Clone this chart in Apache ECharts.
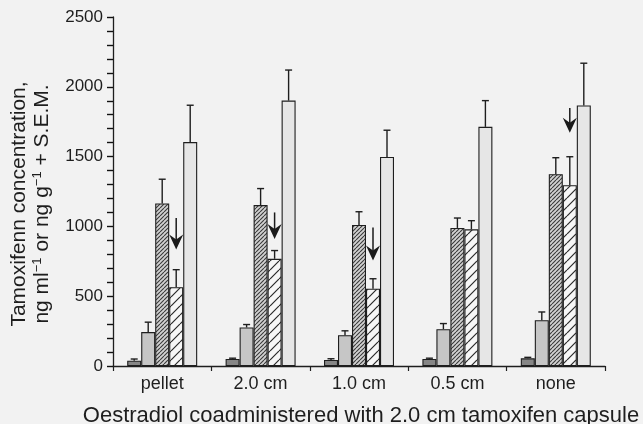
<!DOCTYPE html>
<html>
<head>
<meta charset="utf-8">
<script src="https://cdn.jsdelivr.net/npm/echarts@6/dist/echarts.min.js"></script>
<style>
html,body{margin:0;padding:0;background:#f2f2f2;}
#chart{width:643px;height:424px;}
</style>
</head>
<body>
<div id="chart"></div>
<script>
// ---- data ----
var categories = ['pellet', '2.0 cm', '1.0 cm', '0.5 cm', 'none'];
// five bars per group (left to right)
var bar1 = [38, 50, 43, 50, 55];
var bar2 = [243, 276, 221, 264, 328];
var bar3 = [1164, 1153, 1010, 989, 1374];
var bar4 = [565, 768, 554, 979, 1295];
var bar5 = [1604, 1901, 1497, 1713, 1866];
// upper end of "+ S.E.M." error bars
var upper1 = [50, 56, 52, 56, 62];
var upper2 = [314, 297, 252, 304, 387];
var upper3 = [1338, 1271, 1105, 1060, 1492];
var upper4 = [690, 827, 625, 1041, 1499];
var upper5 = [1868, 2120, 1689, 1901, 2169];
// arrows above the 4th bar: start value and tip value (null = no arrow)
var arrowStart = [1060, 1100, 993, null, 1848];
var arrowTip = [835, 910, 756, null, 1670];
var yTicks = [0, 500, 1000, 1500, 2000, 2500];

var BAR_W = 14;
var FONT = '"Liberation Sans", Arial, Helvetica, sans-serif';

function hatch(size, bg, fg, lw) {
  var c = document.createElement('canvas');
  c.width = size; c.height = size;
  var g = c.getContext('2d');
  g.fillStyle = bg; g.fillRect(0, 0, size, size);
  g.strokeStyle = fg; g.lineWidth = lw;
  g.beginPath();
  [-size, 0, size].forEach(function (o) {
    g.moveTo(o, size); g.lineTo(o + size, 0);
  });
  g.stroke();
  return c;
}

var barSeriesData = [bar1, bar2, bar3, bar4, bar5];
var upperData = [upper1, upper2, upper3, upper4, upper5];
var fills = [
  '#868686',
  '#c6c6c6',
  { image: hatch(4, '#d2d2d2', '#3a3a3a', 1.1), repeat: 'repeat' },
  { image: hatch(9, '#f6f6f6', '#2a2a2a', 1.2), repeat: 'repeat' },
  '#e6e6e6'
];

var series = barSeriesData.map(function (d, k) {
  return {
    type: 'bar',
    name: 'bar' + (k + 1),
    data: d,
    barWidth: BAR_W,
    barGap: '0%',
    itemStyle: { color: fills[k], borderColor: '#1e1e1e', borderWidth: 1.1 },
    silent: true,
    z: 2
  };
});

var errData = [];
for (var k = 0; k < 5; k++) {
  for (var i = 0; i < categories.length; i++) {
    errData.push([i, barSeriesData[k][i], upperData[k][i], k]);
  }
}
series.push({
  type: 'custom',
  name: 'sem',
  data: errData,
  encode: { x: 0, y: 2 },
  z: 5,
  silent: true,
  renderItem: function (params, api) {
    var c0 = api.coord([api.value(0), api.value(1)]);
    var c1 = api.coord([api.value(0), api.value(2)]);
    var x = c0[0] + (api.value(3) - 2) * BAR_W;
    var st = { stroke: '#1e1e1e', lineWidth: 1.4 };
    return {
      type: 'group',
      children: [
        { type: 'line', shape: { x1: x, y1: c0[1], x2: x, y2: c1[1] }, style: st },
        { type: 'line', shape: { x1: x - 3.5, y1: c1[1], x2: x + 3.5, y2: c1[1] }, style: st }
      ]
    };
  }
});

var arrowData = [];
for (var i = 0; i < categories.length; i++) {
  if (arrowStart[i] != null) arrowData.push([i, arrowStart[i], arrowTip[i]]);
}
series.push({
  type: 'custom',
  name: 'arrows',
  data: arrowData,
  encode: { x: 0, y: 1 },
  z: 6,
  silent: true,
  renderItem: function (params, api) {
    var a = api.coord([api.value(0), api.value(1)]);
    var b = api.coord([api.value(0), api.value(2)]);
    var x = a[0] + 1 * BAR_W;
    var tipY = b[1];
    return {
      type: 'group',
      children: [
        { type: 'line', shape: { x1: x, y1: a[1], x2: x, y2: tipY - 8 },
          style: { stroke: '#1a1a1a', lineWidth: 1.5 } },
        { type: 'polygon', shape: { points: [[x, tipY], [x - 7, tipY - 15], [x, tipY - 10], [x + 7, tipY - 15]] },
          style: { fill: '#1a1a1a' } }
      ]
    };
  }
});

var chart = echarts.init(document.getElementById('chart'), null, { renderer: 'canvas' });
chart.setOption({
  backgroundColor: '#f2f2f2',
  animation: false,
  grid: { left: 113, right: 38, top: 17, bottom: 58, containLabel: false },
  xAxis: {
    type: 'category',
    data: categories,
    axisLine: { lineStyle: { color: '#1e1e1e', width: 1.3 } },
    axisTick: { show: true, length: 5, lineStyle: { color: '#1e1e1e', width: 1.2 } },
    axisLabel: { fontSize: 18, color: '#1e1e1e', fontFamily: FONT, margin: 9 }
  },
  yAxis: {
    type: 'value',
    min: yTicks[0],
    max: yTicks[yTicks.length - 1],
    interval: 100,
    axisLine: { show: true, lineStyle: { color: '#1e1e1e', width: 1.3 } },
    axisTick: { show: true, inside: false, length: 6, lineStyle: { color: '#111', width: 1.4 } },
    splitLine: { show: false },
    axisLabel: { fontSize: 17, color: '#1e1e1e', fontFamily: FONT, margin: 10, showMinLabel: true, showMaxLabel: true,
      formatter: function (v) { return yTicks.indexOf(v) >= 0 ? String(v) : ''; } }
  },
  graphic: [
    {
      type: 'text',
      x: 361, y: 416,
      style: {
        text: 'Oestradiol coadministered with 2.0 cm tamoxifen capsule',
        font: '22px ' + FONT,
        fill: '#1e1e1e',
        align: 'center',
        verticalAlign: 'middle'
      }
    },
    {
      type: 'text',
      x: 31, y: 204,
      rotation: Math.PI / 2,
      style: {
        text: '{a|Tamoxifenn concentration,}\n{a|ng ml}{s|\u22121}{a| or ng g}{s|\u22121}{a| + S.E.M.}',
        fill: '#1e1e1e',
        align: 'center',
        verticalAlign: 'middle',
        rich: {
          a: { fontSize: 21, fontFamily: FONT, fill: '#1e1e1e', lineHeight: 23 },
          s: { fontSize: 13, fontFamily: FONT, fill: '#1e1e1e', lineHeight: 23, verticalAlign: 'top', padding: [0, 0, 10, 0] }
        }
      }
    }
  ],
  series: series
});
</script>
</body>
</html>
